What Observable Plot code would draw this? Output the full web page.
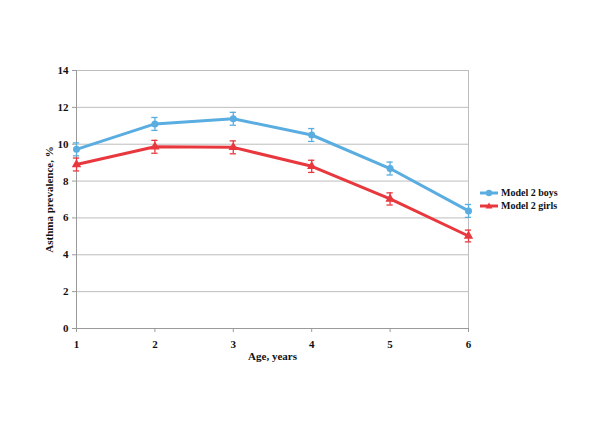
<!DOCTYPE html>
<html>
<head>
<meta charset="utf-8">
<script src="https://cdn.jsdelivr.net/npm/d3@7"></script>
<script src="https://cdn.jsdelivr.net/npm/@observablehq/plot@0.6"></script>
<style>
  body { margin: 0; background: #fff; }
  #wrap { position: relative; width: 600px; height: 424px; font-family: "Liberation Serif", "Times New Roman", serif; }
  #legend { position: absolute; left: 480px; top: 186px; font-weight: bold; font-size: 10px; color: #111; }
  #legend .row { display: flex; align-items: center; height: 13px; }
  #legend svg { margin-right: 3px; }
</style>
</head>
<body>
<div id="wrap"><div id="legend"></div></div>
<script>
const ages = [1, 2, 3, 4, 5, 6];
const seriesNames = ["Model 2 boys", "Model 2 girls"];
const boys = [9.72, 11.1, 11.38, 10.5, 8.68, 6.38];
const girls = [8.9, 9.86, 9.83, 8.8, 7.03, 5.02];
const boysErr = [0.35, 0.35, 0.35, 0.35, 0.35, 0.35];
const girlsErr = [0.35, 0.35, 0.35, 0.33, 0.33, 0.32];
const yTicks = [0, 2, 4, 6, 8, 10, 12, 14];
const colors = ["#5aade0", "#e8383e"];
const symbols = ["circle", "triangle"];

const rows = [];
[boys, girls].forEach((vals, si) => {
  const errs = si === 0 ? boysErr : girlsErr;
  ages.forEach((a, i) => rows.push({series: seriesNames[si], age: a, v: vals[i], lo: vals[i] - errs[i], hi: vals[i] + errs[i]}));
});
const cap = 0.04;

const chart = Plot.plot({
  width: 600,
  height: 424,
  marginLeft: 76,
  marginRight: 132,
  marginTop: 70,
  marginBottom: 96,
  style: {fontFamily: "'Liberation Serif', 'Times New Roman', serif", fontSize: "11px", fontWeight: "bold", color: "#111", background: "#fff"},
  x: {domain: [1, 6]},
  y: {domain: [0, 14]},
  color: {domain: seriesNames, range: colors},
  symbol: {domain: seriesNames, range: symbols},
  marks: [
    Plot.gridY(yTicks, {stroke: "#bdbdbd", strokeOpacity: 1}),
    Plot.ruleX([6], {stroke: "#bdbdbd"}),
    Plot.ruleX([1], {stroke: "#9a9a9a"}),
    Plot.ruleY([0], {stroke: "#9a9a9a"}),
    Plot.axisY(yTicks, {label: "Asthma prevalence, %", labelAnchor: "center", labelArrow: "none", tickSize: 4, tickPadding: 4, stroke: "#9a9a9a", fill: "#111", labelOffset: 31, fontSize: 11}),
    Plot.axisX(ages, {label: "Age, years", labelAnchor: "center", labelArrow: "none", tickSize: 4, tickPadding: 8, stroke: "#9a9a9a", fill: "#111", labelOffset: 31, fontSize: 11}),
    Plot.line(rows, {x: "age", y: "v", z: "series", stroke: "series", strokeWidth: 3}),
    Plot.ruleX(rows, {x: "age", y1: "lo", y2: "hi", stroke: "series", strokeWidth: 1.3}),
    Plot.ruleY(rows, {y: "lo", x1: d => d.age - cap, x2: d => d.age + cap, stroke: "series", strokeWidth: 1.3}),
    Plot.ruleY(rows, {y: "hi", x1: d => d.age - cap, x2: d => d.age + cap, stroke: "series", strokeWidth: 1.3}),
    Plot.dot(rows, {x: "age", y: "v", fill: "series", symbol: "series", r: 3.5})
  ]
});
const wrap = document.getElementById("wrap");
wrap.insertBefore(chart, wrap.firstChild);

const legend = document.getElementById("legend");
seriesNames.forEach((name, i) => {
  const row = document.createElement("div");
  row.className = "row";
  const sym = i === 0
    ? `<circle cx="9" cy="6" r="3.2" fill="${colors[i]}"/>`
    : `<path d="M9,2.5 L12.5,8.5 L5.5,8.5 Z" fill="${colors[i]}"/>`;
  row.innerHTML = `<svg width="18" height="12"><line x1="0" y1="6" x2="18" y2="6" stroke="${colors[i]}" stroke-width="3"/>${sym}</svg><span>${name}</span>`;
  legend.appendChild(row);
});
</script>
</body>
</html>
